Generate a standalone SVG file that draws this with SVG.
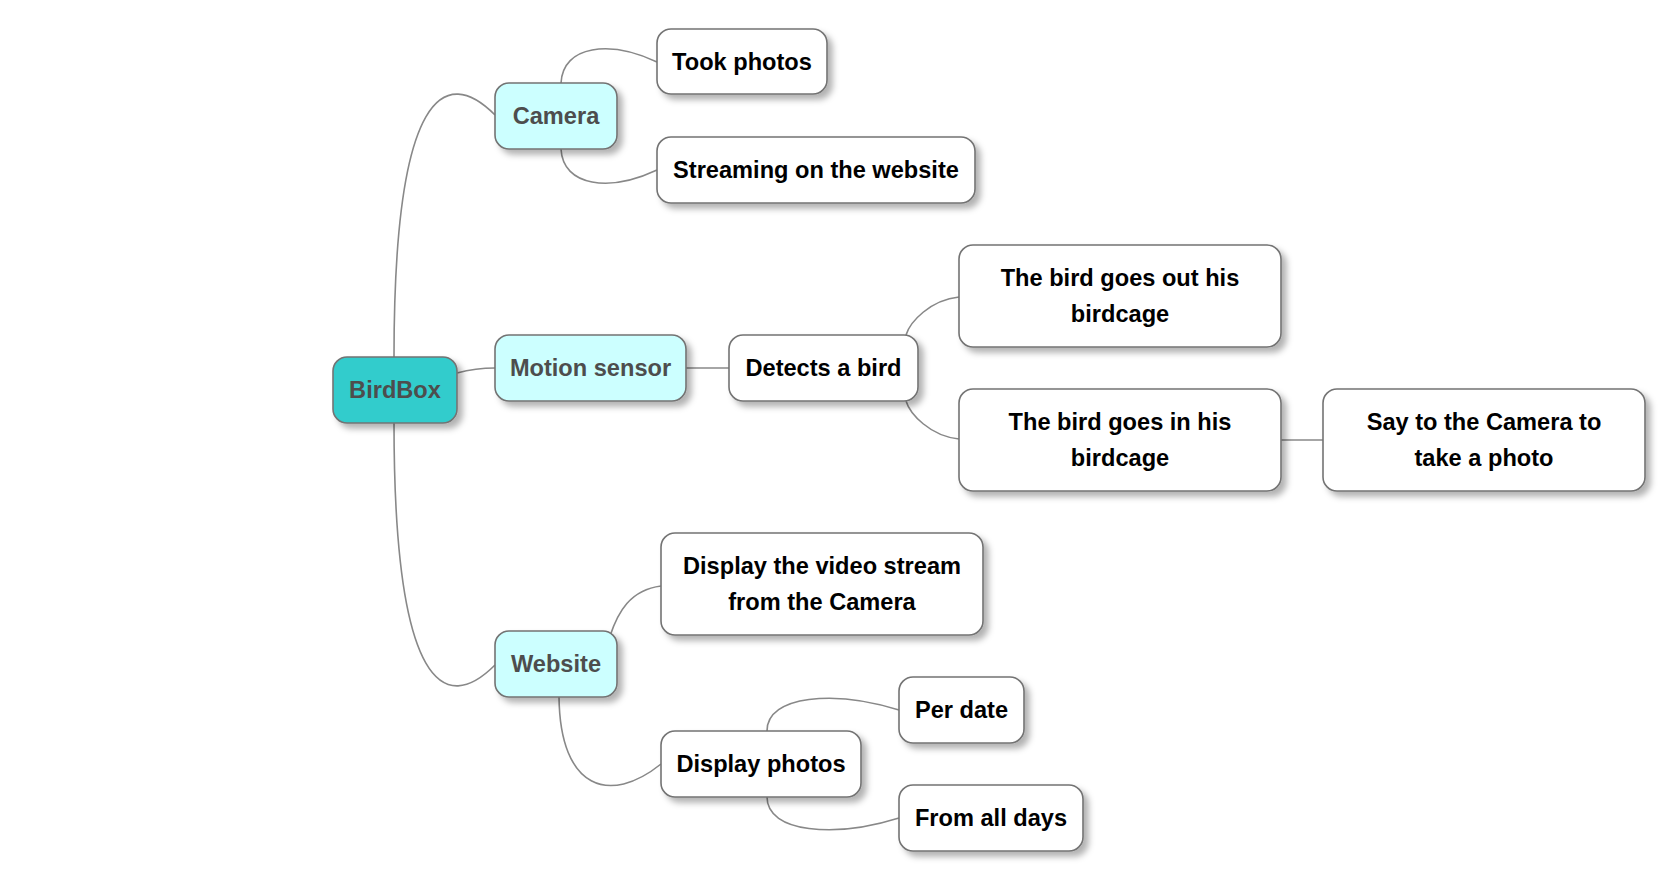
<svg xmlns="http://www.w3.org/2000/svg" width="1676" height="882" viewBox="0 0 1676 882">
<style>
  .box { stroke: #737373; stroke-width: 1.6; filter: url(#shadow); }
  .root { fill: #33CCCC; }
  .mid { fill: #CCFFFF; }
  .leaf { fill: #FFFFFF; }
  text { font-family: "Liberation Sans", Arial, sans-serif; font-weight: bold; font-size: 23.6px; text-anchor: middle; }
  .t-mid { fill: #4D4D4D; }
  .t-leaf { fill: #000000; }
  #connectors path, #connectors line { fill: none; stroke: #888888; stroke-width: 1.6; }
</style>
<defs>
  <filter id="shadow" x="-20%" y="-20%" width="150%" height="160%">
    <feGaussianBlur in="SourceAlpha" stdDeviation="3"/>
    <feOffset dx="5" dy="5" result="b"/>
    <feFlood flood-color="#000000" flood-opacity="0.3"/>
    <feComposite in2="b" operator="in"/>
    <feMerge><feMergeNode/><feMergeNode in="SourceGraphic"/></feMerge>
  </filter>
</defs>
<rect width="1676" height="882" fill="#FFFFFF"/>
<g id="connectors">
  <path d="M394,357 C394,90 445,65 495,115"/>
  <path d="M394,423 C394,690 445,715 495,665"/>
  <path d="M457,373 C472,369 480,368 495,368"/>
  <path d="M561,83 C563,45 610,40 657,62"/>
  <path d="M561,149 C563,187 610,192 657,170"/>
  <line x1="686" y1="368" x2="729" y2="368"/>
  <path d="M906,335 C910,322 930,300 959,297"/>
  <path d="M906,401 C910,414 930,436 959,439"/>
  <line x1="1281" y1="440" x2="1323" y2="440"/>
  <path d="M610,636 C618,612 630,590 661,586"/>
  <path d="M559,697 C560,790 610,805 661,764"/>
  <path d="M767,731 C767,695 835,690 899,710"/>
  <path d="M767,797 C767,833 835,838 899,818"/>
</g>
<g id="node-birdbox">
  <rect class="box root" x="333" y="357" width="124" height="66" rx="14"/>
  <text class="t-mid" x="395" y="398">BirdBox</text>
</g>
<g id="node-camera">
  <rect class="box mid" x="495" y="83" width="122" height="66" rx="14"/>
  <text class="t-mid" x="556" y="124">Camera</text>
</g>
<g id="node-took-photos">
  <rect class="box leaf" x="657" y="29" width="170" height="65" rx="14"/>
  <text class="t-leaf" x="742" y="69.5">Took photos</text>
</g>
<g id="node-streaming">
  <rect class="box leaf" x="657" y="137" width="318" height="66" rx="14"/>
  <text class="t-leaf" x="816" y="178">Streaming on the website</text>
</g>
<g id="node-motion-sensor">
  <rect class="box mid" x="495" y="335" width="191" height="66" rx="14"/>
  <text class="t-mid" x="590.5" y="376">Motion sensor</text>
</g>
<g id="node-detects">
  <rect class="box leaf" x="729" y="335" width="189" height="66" rx="14"/>
  <text class="t-leaf" x="823.5" y="376">Detects a bird</text>
</g>
<g id="node-goes-out">
  <rect class="box leaf" x="959" y="245" width="322" height="102" rx="14"/>
  <text class="t-leaf" x="1120" y="286">The bird goes out his</text>
  <text class="t-leaf" x="1120" y="322">birdcage</text>
</g>
<g id="node-goes-in">
  <rect class="box leaf" x="959" y="389" width="322" height="102" rx="14"/>
  <text class="t-leaf" x="1120" y="430">The bird goes in his</text>
  <text class="t-leaf" x="1120" y="466">birdcage</text>
</g>
<g id="node-say-camera">
  <rect class="box leaf" x="1323" y="389" width="322" height="102" rx="14"/>
  <text class="t-leaf" x="1484" y="430">Say to the Camera to</text>
  <text class="t-leaf" x="1484" y="466">take a photo</text>
</g>
<g id="node-website">
  <rect class="box mid" x="495" y="631" width="122" height="66" rx="14"/>
  <text class="t-mid" x="556" y="672">Website</text>
</g>
<g id="node-video-stream">
  <rect class="box leaf" x="661" y="533" width="322" height="102" rx="14"/>
  <text class="t-leaf" x="822" y="574">Display the video stream</text>
  <text class="t-leaf" x="822" y="610">from the Camera</text>
</g>
<g id="node-display-photos">
  <rect class="box leaf" x="661" y="731" width="200" height="66" rx="14"/>
  <text class="t-leaf" x="761" y="772">Display photos</text>
</g>
<g id="node-per-date">
  <rect class="box leaf" x="899" y="677" width="125" height="66" rx="14"/>
  <text class="t-leaf" x="961.5" y="718">Per date</text>
</g>
<g id="node-all-days">
  <rect class="box leaf" x="899" y="785" width="184" height="66" rx="14"/>
  <text class="t-leaf" x="991" y="826">From all days</text>
</g>
</svg>
